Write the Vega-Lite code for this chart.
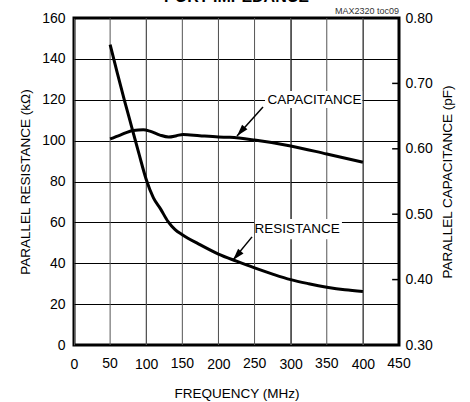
{
  "$schema": "https://vega.github.io/schema/vega-lite/v6.json",
  "width": 325,
  "height": 327,
  "autosize": {"type": "none"},
  "padding": {"left": 74, "top": 18, "right": 71, "bottom": 57},
  "background": "white",
  "config": {
    "view": {"stroke": "black", "strokeWidth": 3},
    "font": "Liberation Sans",
    "axis": {"labelFont": "Liberation Sans", "titleFont": "Liberation Sans", "labelFontSize": 14, "titleFontSize": 13.5, "labelColor": "black", "titleColor": "black", "titleFontWeight": "normal", "domain": false, "labelOverlap": false, "labelFlush": false, "labelBound": false}
  },
  "datasets": {
    "vgrid": [{"f": 50}, {"f": 100}, {"f": 150}, {"f": 200}, {"f": 250}, {"f": 300}, {"f": 350}, {"f": 400}],
    "xlabels": [
      {"f": 50, "v": 0, "t": "50"}, {"f": 150, "v": 0, "t": "150"}, {"f": 250, "v": 0, "t": "250"},
      {"f": 350, "v": 0, "t": "350"}, {"f": 450, "v": 0, "t": "450"}
    ],
    "res": [
      {"f": 50, "v": 147}, {"f": 60, "v": 133}, {"f": 70, "v": 119.5}, {"f": 80, "v": 106.5},
      {"f": 90, "v": 93.5}, {"f": 100, "v": 81}, {"f": 110, "v": 72}, {"f": 120, "v": 66.5},
      {"f": 130, "v": 60.5}, {"f": 140, "v": 56.5}, {"f": 150, "v": 54}, {"f": 175, "v": 49},
      {"f": 200, "v": 44.5}, {"f": 225, "v": 41}, {"f": 250, "v": 37.7}, {"f": 275, "v": 34.7},
      {"f": 300, "v": 32}, {"f": 325, "v": 30}, {"f": 350, "v": 28.3}, {"f": 375, "v": 27},
      {"f": 400, "v": 26.2}
    ],
    "cap": [
      {"f": 50, "c": 0.615}, {"f": 64, "c": 0.621}, {"f": 82, "c": 0.628}, {"f": 96, "c": 0.629},
      {"f": 105, "c": 0.627}, {"f": 119, "c": 0.621}, {"f": 131, "c": 0.618}, {"f": 142, "c": 0.62},
      {"f": 151, "c": 0.622}, {"f": 174, "c": 0.62}, {"f": 200, "c": 0.618}, {"f": 216, "c": 0.6175},
      {"f": 250, "c": 0.6134}, {"f": 300, "c": 0.6044}, {"f": 350, "c": 0.592}, {"f": 400, "c": 0.5794}
    ],
    "rticks": [
      {"c": 0.4, "f": 440.5, "f2": 450}, {"c": 0.5, "f": 440.5, "f2": 450}, {"c": 0.6, "f": 440.5, "f2": 450},
      {"c": 0.7, "f": 440.5, "f2": 450}, {"c": 0.8, "f": 440.5, "f2": 450}
    ],
    "boxes": [
      {"f": 264.5, "f2": 399, "v": 124.3, "v2": 116},
      {"f": 250.6, "f2": 371, "v": 61.7, "v2": 51.7}
    ],
    "labels": [
      {"f": 333, "v": 120, "text": "CAPACITANCE"},
      {"f": 309, "v": 56.6, "text": "RESISTANCE"}
    ],
    "arrows": [
      {"f": 261.7, "v": 116.5, "f2": 225.7, "v2": 102.3},
      {"f": 246.5, "v": 52.9, "f2": 220.2, "v2": 41.6}
    ],
    "heads": [
      {"f": 225.7, "v": 102.3},
      {"f": 220.2, "v": 41.6}
    ],
    "notes": [
      {"f": 450, "v": 160, "text": "MAX2320 toc09"}
    ],
    "heading": [
      {"f": 225, "v": 160, "text": "PORT IMPEDANCE"}
    ]
  },
  "encoding": {
    "x": {"field": "f", "type": "quantitative", "scale": {"domain": [0, 450], "nice": false}, "axis": null}
  },
  "layer": [
    {
      "data": {"name": "vgrid"},
      "mark": {"type": "rule", "color": "#555", "strokeWidth": 1}
    },
    {
      "data": {"name": "res"},
      "mark": {"type": "line", "color": "black", "strokeWidth": 3, "interpolate": "monotone"},
      "encoding": {
        "x": {"field": "f", "type": "quantitative", "scale": {"domain": [0, 450], "nice": false},
          "axis": {"values": [0, 50, 100, 150, 200, 250, 300, 350, 400, 450], "tickCount": 9, "title": "FREQUENCY (MHz)", "ticks": false, "labelPadding": 12, "titlePadding": 15, "grid": true, "gridColor": "#555", "gridOpacity": 1, "gridWidth": 1}},
        "y": {"field": "v", "type": "quantitative", "scale": {"domain": [0, 160], "nice": false},
          "axis": {"values": [0, 20, 40, 60, 80, 100, 120, 140, 160], "title": "PARALLEL RESISTANCE (kΩ)", "ticks": false, "labelPadding": 9, "titlePadding": 9, "grid": true, "gridColor": "black", "gridOpacity": 1, "gridWidth": 1}}
      }
    },
    {
      "data": {"name": "xlabels"},
      "mark": {"type": "text", "font": "Liberation Sans", "fontSize": 14, "color": "black", "align": "center", "baseline": "top", "dy": 12, "clip": false},
      "encoding": {
        "y": {"field": "v", "type": "quantitative", "scale": {"domain": [0, 160], "nice": false}, "axis": null},
        "text": {"field": "t"}
      }
    },
    {
      "data": {"name": "boxes"},
      "mark": {"type": "rect", "color": "white", "opacity": 1},
      "encoding": {
        "x2": {"field": "f2"},
        "y": {"field": "v", "type": "quantitative", "scale": {"domain": [0, 160], "nice": false}, "axis": null},
        "y2": {"field": "v2"}
      }
    },
    {
      "data": {"name": "labels"},
      "mark": {"type": "text", "font": "Liberation Sans", "fontSize": 13.5, "color": "black", "align": "center", "baseline": "middle"},
      "encoding": {
        "y": {"field": "v", "type": "quantitative", "scale": {"domain": [0, 160], "nice": false}, "axis": null},
        "text": {"field": "text"}
      }
    },
    {
      "data": {"name": "arrows"},
      "mark": {"type": "rule", "color": "black", "strokeWidth": 1.5},
      "encoding": {
        "y": {"field": "v", "type": "quantitative", "scale": {"domain": [0, 160], "nice": false}, "axis": null},
        "x2": {"field": "f2"},
        "y2": {"field": "v2"}
      }
    },
    {
      "data": {"name": "heads"},
      "mark": {"type": "point", "shape": "M0,0L0.3,1L-0.3,1Z", "size": 560, "filled": true, "color": "black", "opacity": 1, "angle": 221},
      "encoding": {
        "y": {"field": "v", "type": "quantitative", "scale": {"domain": [0, 160], "nice": false}, "axis": null}
      }
    },
    {
      "data": {"name": "notes"},
      "mark": {"type": "text", "font": "Liberation Sans", "fontSize": 9, "color": "#333", "align": "right", "baseline": "alphabetic", "dy": -4, "clip": false},
      "encoding": {
        "y": {"field": "v", "type": "quantitative", "scale": {"domain": [0, 160], "nice": false}, "axis": null},
        "text": {"field": "text"}
      }
    },
    {
      "data": {"name": "heading"},
      "mark": {"type": "text", "font": "Liberation Sans", "fontSize": 16, "fontWeight": "bold", "color": "black", "align": "center", "baseline": "alphabetic", "dy": -16.5, "clip": false},
      "encoding": {
        "y": {"field": "v", "type": "quantitative", "scale": {"domain": [0, 160], "nice": false}, "axis": null},
        "text": {"field": "text"}
      }
    },
    {
      "data": {"name": "rticks"},
      "mark": {"type": "rule", "color": "black", "strokeWidth": 1.5},
      "encoding": {
        "x2": {"field": "f2"},
        "y": {"field": "c", "type": "quantitative", "scale": {"domain": [0.3, 0.8], "nice": false}, "axis": null},
        "y2": {"field": "c"}
      }
    },
    {
      "data": {"name": "cap"},
      "mark": {"type": "line", "color": "black", "strokeWidth": 3, "interpolate": "monotone"},
      "encoding": {
        "y": {"field": "c", "type": "quantitative", "scale": {"domain": [0.3, 0.8], "nice": false},
          "axis": {"orient": "right", "values": [0.3, 0.4, 0.5, 0.6, 0.7, 0.8], "format": ".2f", "title": "PARALLEL CAPACITANCE (pF)", "titleAngle": 270, "ticks": false, "labelPadding": 6, "titlePadding": 22, "grid": false}}
      }
    }
  ],
  "resolve": {"scale": {"y": "independent"}, "axis": {"x": "independent"}}
}
